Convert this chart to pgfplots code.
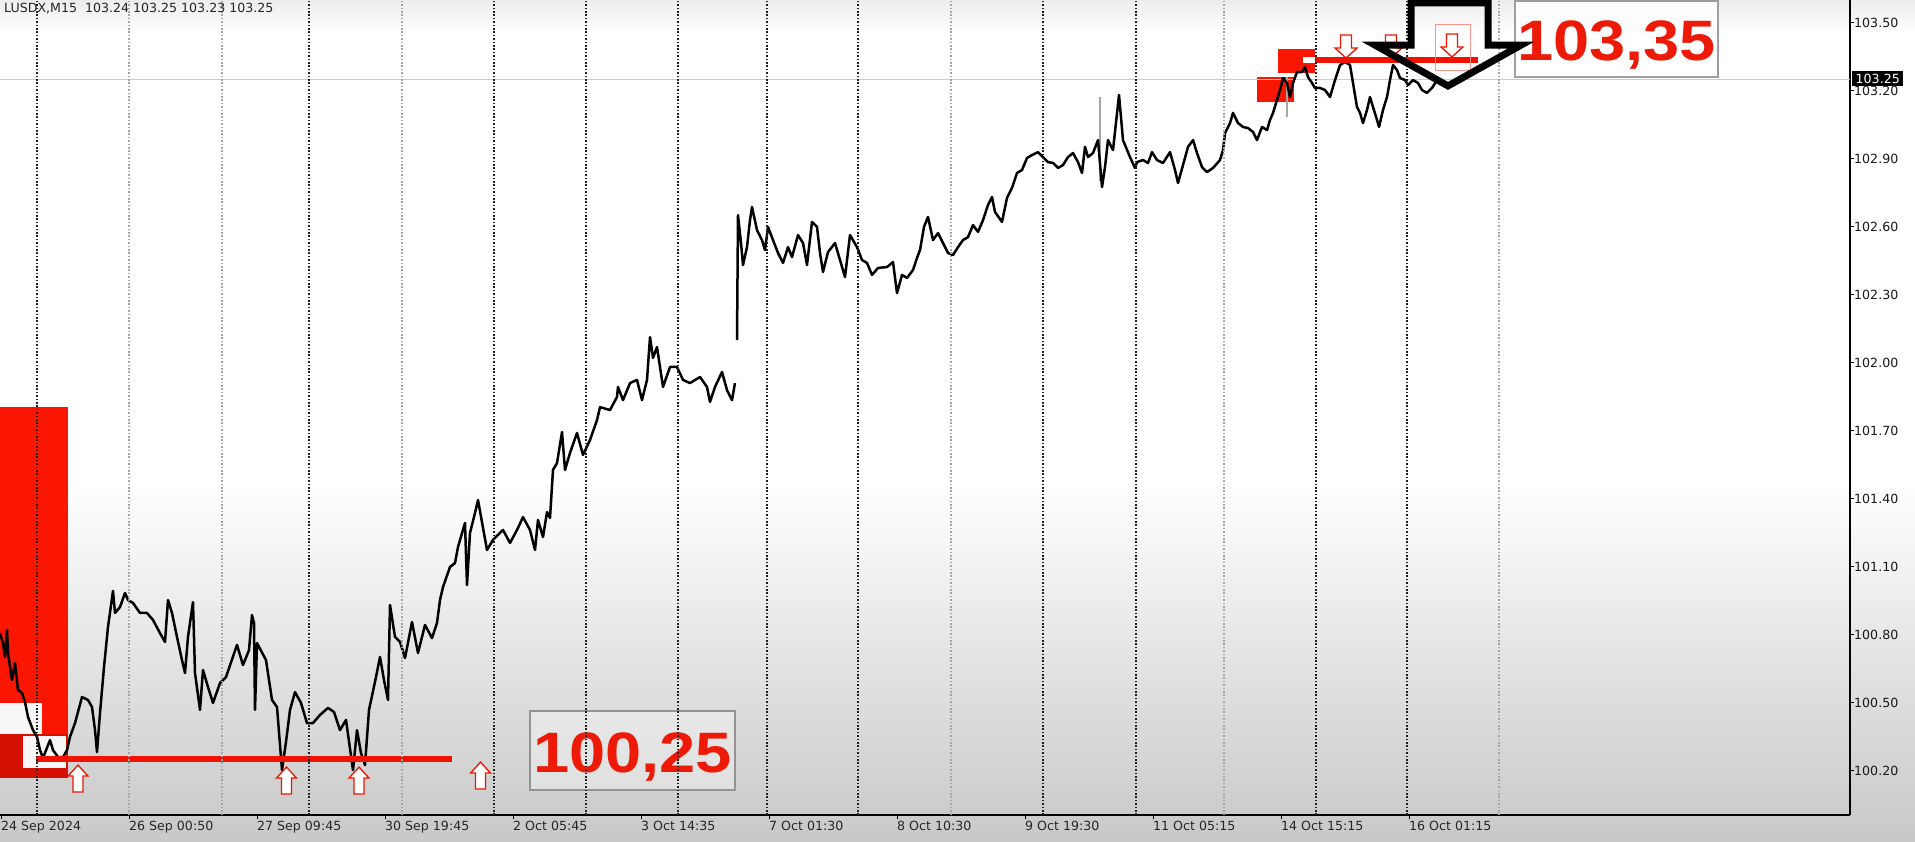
\documentclass[border=0pt]{standalone}
\usepackage{fontspec}
\setmainfont{DejaVu Sans}
\newfontfamily\bigfont{Liberation Sans}
\usepackage{graphicx}
\usepackage{pgfplots}
\pgfplotsset{compat=1.18}

\definecolor{zone}{RGB}{250,22,0}
\definecolor{zonedark}{RGB}{212,16,0}
\definecolor{lvl}{RGB}{240,20,0}
\definecolor{numred}{RGB}{236,26,6}
\definecolor{bggray}{RGB}{200,200,200}
\definecolor{sepgray}{RGB}{165,165,165}
\definecolor{sepblack}{RGB}{30,30,30}

\newcommand{\tickfont}{\fontsize{12.6}{14}\selectfont}
% outline arrows of the levels, tip at (x,price)
\newcommand{\uparr}[2]{\draw[lvl, line width=1.3pt, fill=white] (axis cs:#1,#2) -- ++(10pt,-11pt) -- ++(-5pt,0pt) -- ++(0pt,-16pt) -- ++(-10pt,0pt) -- ++(0pt,16pt) -- ++(-5pt,0pt) -- cycle;}
\newcommand{\dnarr}[2]{\draw[lvl, line width=1.3pt, fill=white] (axis cs:#1,#2) -- ++(-11pt,10pt) -- ++(5.5pt,0pt) -- ++(0pt,13pt) -- ++(11pt,0pt) -- ++(0pt,-13pt) -- ++(5.5pt,0pt) -- cycle;}

\begin{document}
\begin{tikzpicture}
\useasboundingbox (0,0) rectangle (1915pt,841pt);
\fill[white] (0,0) rectangle (1915pt,841pt);
\shade[top color=white, bottom color=bggray] (0,0) rectangle (1915pt,361pt);
\shade[top color=black!7, bottom color=white] (0pt,806pt) rectangle (1915pt,841pt);

\begin{axis}[
  at={(0pt,26pt)}, anchor=south west,
  scale only axis, width=1850pt, height=815pt,
  xmin=0, xmax=1850, ymin=100.0046, ymax=103.6001,
  axis x line*=bottom, axis y line*=right,
  axis line style={-, black, line width=1.3pt},
  tick align=outside, major tick length=4pt,
  tick style={black, line width=1pt},
  xtick={1,129,257,385,513,641,769,897,1025,1153,1281,1409},
  xticklabels={24 Sep 2024,26 Sep 00:50,27 Sep 09:45,30 Sep 19:45,2 Oct 05:45,3 Oct 14:35,7 Oct 01:30,8 Oct 10:30,9 Oct 19:30,11 Oct 05:15,14 Oct 15:15,16 Oct 01:15},
  ytick={100.2,100.5,100.8,101.1,101.4,101.7,102.0,102.3,102.6,102.9,103.2,103.5},
  x tick label style={anchor=north west, inner sep=0pt, yshift=-2pt, font=\tickfont, text=black!85},
  y tick label style={anchor=west, inner sep=0pt, font=\tickfont, text=black!90,
    /pgf/number format/fixed, /pgf/number format/fixed zerofill,
    /pgf/number format/precision=2, /pgf/number format/assume math mode=true},
  clip=false,
]
% supply / demand zones
\fill[zone] (axis cs:0,101.804) rectangle (axis cs:68,100.168);
\fill[zonedark] (axis cs:0,100.362) rectangle (axis cs:68,100.168);
\fill[white!94!gray] (axis cs:0,100.499) rectangle (axis cs:42,100.362);
\fill[white!94!gray] (axis cs:23,100.353) rectangle (axis cs:66,100.212);
\fill[zone] (axis cs:1257,103.260) rectangle (axis cs:1294,103.150);
\fill[zone] (axis cs:1278,103.384) rectangle (axis cs:1315,103.278);
\fill[white] (axis cs:1303,103.349) rectangle (axis cs:1315,103.322);

% label boxes
\draw[fill=white, fill opacity=0.35, draw=gray!85, line width=1.3pt] (axis cs:530,100.463) rectangle (axis cs:735,100.115);
\draw[fill=white, fill opacity=0.85, draw=gray!75, line width=1.3pt] (axis cs:1515,103.596) rectangle (axis cs:1718,103.260);

% current price line
\addplot[gray!40, line width=1pt] coordinates {(0,103.251)(1850,103.251)};

% wicks
\addplot[gray!70, line width=1.5pt] coordinates {(1287,103.260)(1287,103.084)};
\addplot[gray!70, line width=1.5pt] coordinates {(1100,103.172)(1100,102.800)};

% price, M15 close
\addplot[black, line width=2.5pt, line join=round] table {
0 100.807
3 100.763
5 100.702
7 100.821
8 100.719
12 100.600
15 100.675
18 100.556
22 100.543
25 100.503
28 100.437
33 100.379
37 100.349
40 100.291
43 100.256
50 100.335
53 100.291
58 100.260
63 100.260
67 100.291
70 100.349
75 100.410
82 100.525
88 100.512
92 100.481
95 100.379
97 100.282
100 100.454
104 100.657
108 100.834
113 100.993
115 100.896
120 100.922
125 100.984
128 100.953
133 100.940
140 100.896
147 100.896
153 100.865
160 100.807
165 100.768
168 100.953
172 100.896
177 100.790
182 100.688
185 100.631
188 100.790
193 100.944
195 100.631
200 100.468
203 100.644
208 100.569
213 100.499
220 100.587
226 100.613
237 100.755
243 100.666
249 100.732
252 100.887
254 100.852
255 100.468
257 100.763
266 100.688
272 100.512
277 100.481
282 100.203
286 100.327
290 100.468
295 100.547
301 100.499
307 100.410
313 100.410
320 100.446
328 100.477
334 100.459
340 100.379
346 100.424
353 100.203
357 100.379
361 100.278
365 100.225
369 100.468
376 100.613
380 100.702
384 100.600
388 100.512
390 100.931
395 100.790
400 100.768
405 100.697
412 100.856
418 100.719
425 100.843
432 100.785
437 100.852
440 100.953
443 101.010
450 101.099
455 101.116
458 101.187
465 101.293
467 101.019
470 101.249
475 101.337
478 101.394
487 101.174
493 101.218
503 101.262
510 101.205
517 101.262
523 101.319
530 101.262
535 101.174
538 101.306
543 101.231
547 101.341
550 101.315
553 101.527
557 101.557
562 101.694
565 101.527
570 101.602
577 101.690
583 101.593
590 101.659
597 101.747
600 101.804
610 101.791
617 101.849
618 101.893
623 101.835
630 101.910
637 101.924
642 101.835
647 101.924
650 102.113
653 102.021
657 102.069
663 101.893
670 101.981
677 101.981
683 101.924
690 101.910
700 101.937
707 101.893
710 101.827
715 101.893
722 101.959
727 101.879
732 101.835
735 101.910
};
\addplot[black, line width=2.5pt, line join=round] table {
737 102.100
738 102.651
741 102.528
743 102.431
747 102.510
750 102.629
752 102.687
757 102.585
762 102.541
765 102.497
768 102.599
773 102.541
778 102.484
783 102.440
788 102.510
792 102.466
798 102.563
803 102.528
807 102.431
812 102.621
817 102.599
820 102.484
823 102.400
828 102.488
835 102.528
840 102.453
845 102.378
850 102.563
857 102.510
862 102.453
867 102.440
872 102.387
878 102.418
887 102.422
893 102.444
897 102.307
902 102.387
907 102.374
913 102.409
917 102.462
920 102.497
924 102.599
928 102.643
933 102.541
938 102.572
943 102.528
948 102.484
953 102.475
958 102.510
963 102.541
968 102.554
973 102.607
978 102.577
983 102.629
988 102.696
992 102.731
995 102.665
1002 102.621
1007 102.727
1012 102.771
1017 102.837
1022 102.850
1027 102.903
1032 102.916
1038 102.929
1043 102.907
1048 102.885
1053 102.881
1058 102.859
1063 102.872
1068 102.907
1073 102.925
1078 102.885
1082 102.837
1085 102.952
1088 102.907
1093 102.925
1098 102.982
1102 102.775
1105 102.863
1108 102.982
1113 102.938
1119 103.181
1123 102.982
1130 102.907
1135 102.859
1137 102.885
1143 102.894
1148 102.881
1152 102.929
1157 102.894
1163 102.881
1170 102.929
1175 102.850
1178 102.793
1183 102.872
1188 102.952
1193 102.982
1197 102.925
1202 102.863
1207 102.841
1213 102.859
1220 102.894
1223 102.938
1225 103.013
1230 103.057
1233 103.102
1238 103.057
1243 103.040
1248 103.035
1253 103.018
1257 102.982
1262 103.040
1267 103.026
1270 103.071
1273 103.102
1277 103.159
1280 103.203
1283 103.256
1287 103.234
1290 103.172
1293 103.234
1297 103.282
1302 103.282
1305 103.304
1308 103.260
1312 103.234
1315 103.212
1320 103.212
1325 103.203
1330 103.172
1335 103.247
1340 103.313
1345 103.327
1350 103.313
1353 103.234
1357 103.128
1360 103.102
1363 103.057
1367 103.115
1370 103.172
1373 103.128
1377 103.071
1379 103.040
1383 103.115
1387 103.172
1390 103.247
1393 103.313
1397 103.291
1400 103.256
1405 103.247
1408 103.225
1413 103.247
1418 103.234
1422 103.203
1427 103.190
1432 103.212
1437 103.247
};

% levels
\addplot[lvl, line width=6pt] coordinates {(36,100.25)(452,100.25)};
\addplot[lvl, line width=6pt] coordinates {(1315,103.335)(1478,103.335)};

% level touches
\uparr{78}{100.225}
\uparr{286.5}{100.216}
\uparr{359}{100.216}
\uparr{480.5}{100.238}
\dnarr{1346}{103.344}
\dnarr{1391}{103.344}
\draw[lvl!45, line width=1pt] (axis cs:1435,103.494) rectangle (axis cs:1470,103.287);
\dnarr{1452}{103.349}

% level values
\node[anchor=base, inner sep=0pt, text=numred, font=\bigfont\bfseries\fontsize{57}{57}\selectfont] at (axis cs:632.5,100.190) {\scalebox{1.14}[1]{100,25}};
\node[anchor=base, inner sep=0pt, text=numred, font=\bigfont\bfseries\fontsize{57}{57}\selectfont] at (axis cs:1616.5,103.335) {\scalebox{1.14}[1]{103,35}};

% period separators
\pgfplotsinvokeforeach{37,309,494,586,678,767,858,1043,1136,1316,1407}{
  \draw[sepblack, line width=1.5pt, dash pattern=on 1.6pt off 1.8pt] (axis cs:#1,100.0046) -- (axis cs:#1,103.6001);
}
\pgfplotsinvokeforeach{129,222,402,951,1224,1499}{
  \draw[sepgray, line width=1.5pt, dash pattern=on 1.6pt off 1.8pt] (axis cs:#1,100.0046) -- (axis cs:#1,103.6001);
}

% big arrow
\draw[black, line width=7pt, line join=miter] (axis cs:1411,103.587) -- (axis cs:1411,103.401) -- (axis cs:1375,103.401) -- (axis cs:1448,103.221) -- (axis cs:1521,103.401) -- (axis cs:1488,103.401) -- (axis cs:1488,103.587) -- cycle;

% header and price tag
\node[anchor=north west, inner sep=0pt, font=\tickfont, text=black!85] at (axis cs:4,103.587) {LUSDX,M15\ \ 103.24 103.25 103.23 103.25};
\node[anchor=west, fill=black, text=white, font=\tickfont, inner xsep=3.5pt, inner ysep=0pt, minimum height=15pt] at (axis cs:1852,103.254) {103.25};
\end{axis}
\end{tikzpicture}
\end{document}
